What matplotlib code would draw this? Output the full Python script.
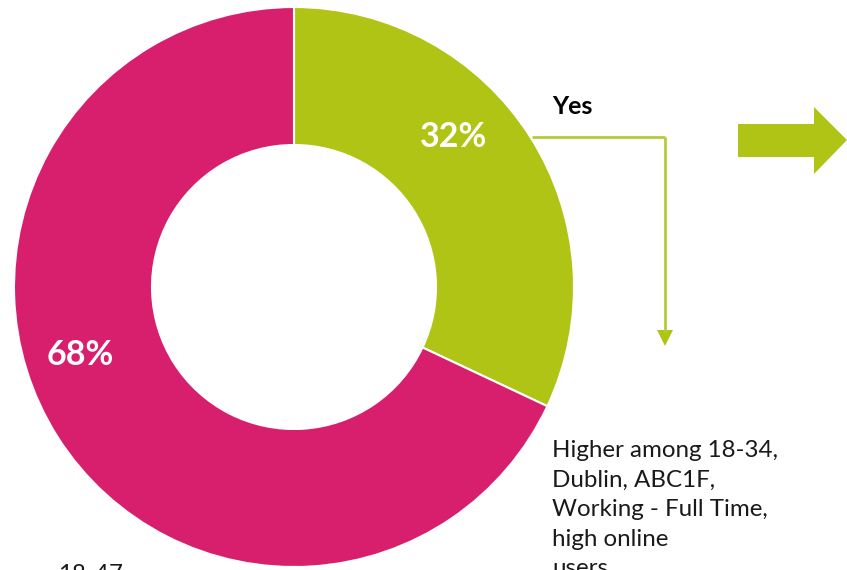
import matplotlib
matplotlib.use("Agg")
import matplotlib.pyplot as plt
from matplotlib.patches import Polygon

# ---- data ----
categories = ["Yes", "No"]
values = [32, 68]
colors = ["#AFC414", "#D81F6E"]
note_text = "Higher among 18-34,\nDublin, ABC1F,\nWorking - Full Time,\nhigh online\nusers"
bottom_left_text = "18-47"

W, H = 847, 570
fig = plt.figure(figsize=(W / 100, H / 100), dpi=100)
ax = fig.add_axes([0, 0, 1, 1])

cx, cy = 294, H - 287
R = 280
ring = 138

ax.pie(values, colors=colors, startangle=90, counterclock=False,
       radius=R, center=(cx, cy),
       wedgeprops=dict(width=ring, edgecolor="white", linewidth=1.5))

ax.set_xlim(0, W)
ax.set_ylim(0, H)
ax.set_aspect("equal")
ax.axis("off")

font = "Lato"
# percentage labels
ax.text(454, H - 137, f"{values[0]}%", color="white", fontsize=24.5, fontweight="bold",
        ha="center", va="center", family=font)
ax.text(80, H - 355, f"{values[1]}%", color="white", fontsize=24.5, fontweight="bold",
        ha="center", va="center", family=font)

# "Yes" label
ax.text(552, H - 106, categories[0], color="black", fontsize=18, fontweight="bold",
        ha="left", va="center", family=font)

# connector line with arrow
lc = "#B5CB3A"
ax.plot([532, 665], [H - 137, H - 137], color=lc, lw=2, solid_capstyle="butt")
ax.plot([665, 665], [H - 137, H - 332], color=lc, lw=2, solid_capstyle="butt")
ax.add_patch(Polygon([[657, H - 330], [673, H - 330], [665, H - 346]],
                     closed=True, color=colors[0], lw=0))

# big block arrow
ax.add_patch(Polygon([[738, H - 124], [814, H - 124], [814, H - 107], [847, H - 140],
                      [814, H - 174], [814, H - 157], [738, H - 157]],
                     closed=True, color=colors[0], lw=0))

# note text
ax.text(552, H - 440, note_text, color="#1a1a1a", fontsize=17.4, ha="left", va="top",
        family=font, linespacing=1.5)

ax.text(58, H - 564, bottom_left_text, color="#1a1a1a", fontsize=17.4, ha="left", va="top",
        family=font)

fig.savefig("out.png", dpi=100)
